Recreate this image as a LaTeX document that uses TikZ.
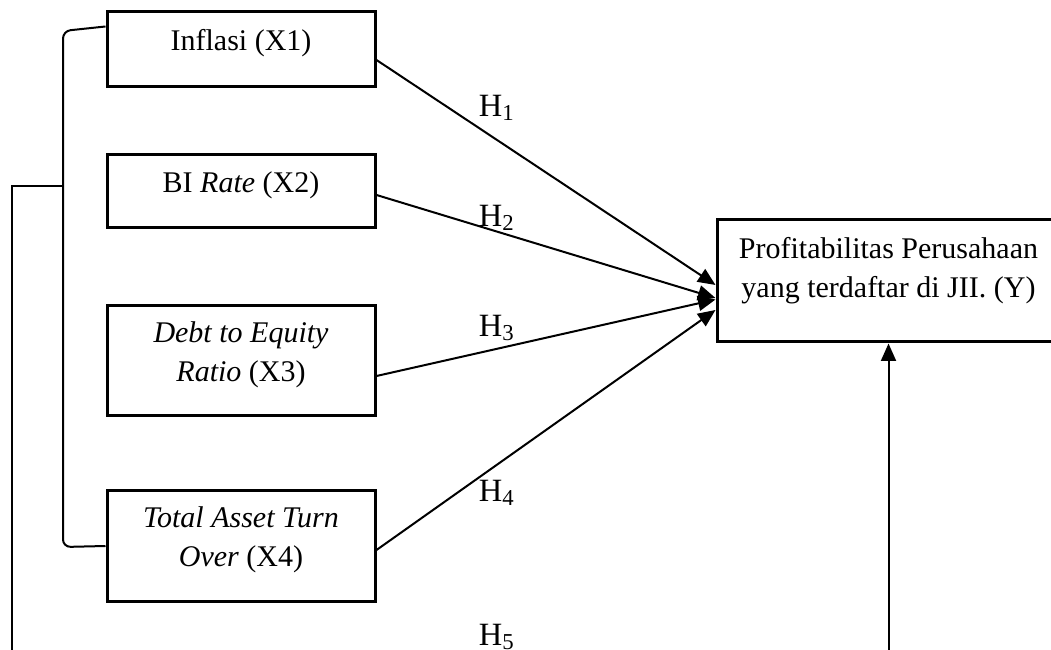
\documentclass[tikz,border=0pt]{standalone}
\usepackage{fontspec}
\setmainfont{Liberation Serif}
\usetikzlibrary{arrows.meta}

\begin{document}
\begin{tikzpicture}[
        x=0.4pt, y=-0.4pt,
        every node/.append style={black, font=\fontsize{12}{15.5}\selectfont},
        varbox/.style={draw, line width=1.2pt, minimum width=107.2pt, inner sep=0pt, align=center, text depth=7.4pt},
        hlabel/.style={font=\fontsize{13}{15}\selectfont},
        link/.style={line width=0.8pt, -{Triangle[length=7pt,width=6pt]}}
    ]
    \useasboundingbox (0,0) rectangle (1051,650);
    \node[varbox, minimum height=30pt] (x1) at (241,49.5) {Inflasi (X1)};
    \node[varbox, minimum height=29.2pt] (x2) at (241,191.5) {BI \textit{Rate} (X2)};
    \node[varbox, minimum height=44pt] (x3) at (241,361) {\textit{Debt to Equity}\\\textit{Ratio} (X3)};
    \node[varbox, minimum height=44pt] (x4) at (241,546) {\textit{Total Asset Turn}\\\textit{Over} (X4)};
    \node[varbox, minimum height=48.8pt, minimum width=137.2pt, text depth=10.6pt] (y) at (888.5,281)
        {Profitabilitas Perusahaan\\yang terdaftar di JII. (Y)};

    \node[hlabel] (h1) at (497,108) {H\textsubscript{1}};
    \node[hlabel] (h2) at (497,218) {H\textsubscript{2}};
    \node[hlabel] (h3) at (497,328) {H\textsubscript{3}};
    \node[hlabel] (h4) at (497,493) {H\textsubscript{4}};
    \node[hlabel] (h5) at (497,637) {H\textsubscript{5}};

    \draw[link] ([yshift=-4.2pt]x1.east) -- ([yshift=-1.6pt]y.west);
    \draw[link] ([yshift=-1.4pt]x2.east) -- ([yshift=-6.8pt]y.west);
    \draw[link] ([yshift=-6pt]x3.east) -- ([yshift=-7.4pt]y.west);
    \draw[link] ([yshift=-1.6pt]x4.east) -- ([yshift=-11.6pt]y.west);

    \draw[line width=0.8pt, rounded corners=3pt] ([yshift=-6.4pt]x1.north west) -- (63,31) -- (63,547) -- (x4.west);
    \coordinate (brace) at (63,186);
    \draw[link] (brace) -- (12,186) -- (12,690) -| (y.south);
\end{tikzpicture}
\end{document}
